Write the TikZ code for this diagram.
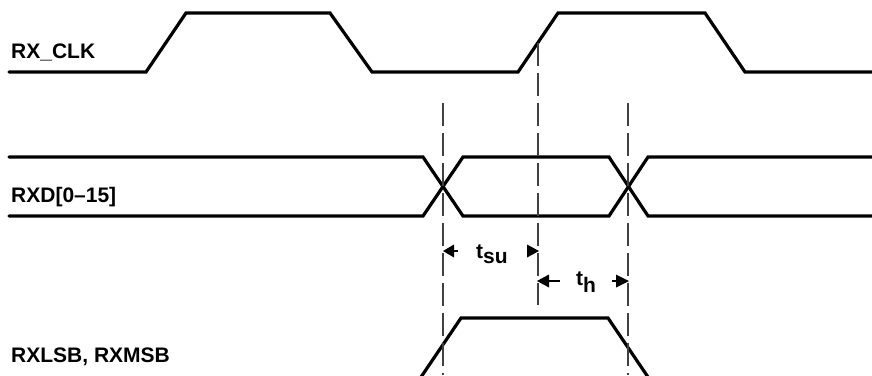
\documentclass[tikz,border=0pt]{standalone}
\usepackage{fontspec}
\setmainfont{Liberation Sans}
\usetikzlibrary{arrows.meta}
\begin{document}
\begin{tikzpicture}[x=1pt,y=-1pt,
  sig/.style={line width=3.2pt,line cap=round,line join=miter},
  guide/.style={line width=1.4pt,draw=black!75,dash pattern=on 23pt off 7pt},
  dim/.style={line width=1.8pt},
  lbl/.style={inner sep=0pt,anchor=base west,font=\bfseries\fontsize{21}{25}\selectfont},
  tlbl/.style={inner sep=0pt,anchor=base west,font=\bfseries\fontsize{21}{25}\selectfont}]
\useasboundingbox (0,0) rectangle (872,375);
\fill[white] (0,0) rectangle (872,375);
% labels
\node[lbl] (clk) at (11,58) {RX\_CLK};
\node[lbl] (rxd) at (11,202) {RXD[0–15]};
\node[lbl] (lsb) at (11,362) {RXLSB, RXMSB};
% RX_CLK
\draw[sig] (9,72) -- (146,72) -- (186,13) -- (330,13) -- (372,72) -- (518,72)
  -- (558,13) -- (705,13) -- (745,72) -- (872,72);
% RXD
\draw[sig] (9,157) -- (423,157) -- (463,216) -- (609,216) -- (648,157) -- (872,157);
\draw[sig] (9,216) -- (423,216) -- (463,157) -- (609,157) -- (648,216) -- (872,216);
% RXLSB
\begin{scope}
\clip (0,0) rectangle (872,375);
\draw[sig,line cap=butt] (419,380) -- (461,318) -- (608,318) -- (650,380);
\end{scope}
% guides
\coordinate (g1t) at (443,103); \coordinate (g1b) at (443,375);
\coordinate (g2t) at (538,43);  \coordinate (g2b) at (538,305);
\coordinate (g3t) at (628,103); \coordinate (g3b) at (628,375);
\draw[guide] (g1t) -- (g1b);
\draw[guide] (g2t) -- (g2b);
\draw[guide] (g3t) -- (g3b);
% t_su
\coordinate (su1) at (458,251); \coordinate (su1t) at (443,251);
\coordinate (su2) at (527,251); \coordinate (su2t) at (539,251);
\draw[dim] (su1) -- ([xshift=8pt]su1t);
\fill (su1t) -- ++(11,-6.5) -- ++(0,13) -- cycle;
\fill (su2t) -- ++(-12,-6.5) -- ++(0,13) -- cycle;
\node[tlbl] (tsu) at (476,258) {t\raisebox{-5pt}{su}};
% t_h
\coordinate (h1) at (560,281); \coordinate (h1t) at (537,281);
\coordinate (h2) at (612,281); \coordinate (h2t) at (629,281);
\draw[dim] (h1) -- ([xshift=8pt]h1t);
\draw[dim] (h2) -- ([xshift=-8pt]h2t);
\fill (h1t) -- ++(12,-6.5) -- ++(0,13) -- cycle;
\fill (h2t) -- ++(-13,-6.5) -- ++(0,13) -- cycle;
\node[tlbl] (th) at (576,285) {t\raisebox{-7pt}{h}};
\end{tikzpicture}
\end{document}
